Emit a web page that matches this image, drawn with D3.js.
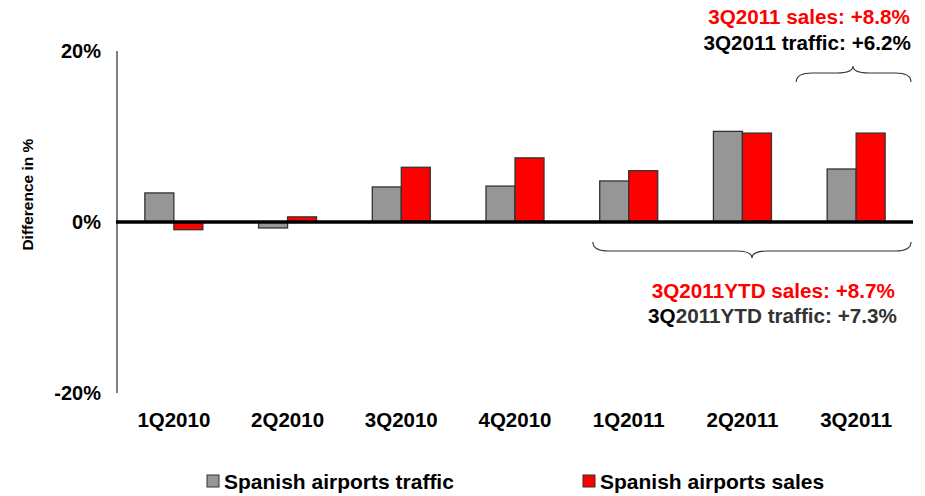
<!DOCTYPE html>
<html>
<head>
<meta charset="utf-8">
<script src="https://cdn.jsdelivr.net/npm/d3@7"></script>
<style>
  body { margin: 0; background: #fff; }
  svg { display: block; font-family: "Liberation Sans", Arial, sans-serif; font-weight: bold; }
</style>
</head>
<body>
<svg width="925" height="496"></svg>
<script>
const quarters = ["1Q2010", "2Q2010", "3Q2010", "4Q2010", "1Q2011", "2Q2011", "3Q2011"];
const traffic = [3.4, -0.7, 4.1, 4.2, 4.8, 10.6, 6.2];
const sales = [-0.9, 0.6, 6.4, 7.5, 6.0, 10.4, 10.4];
const seriesNames = ["Spanish airports traffic", "Spanish airports sales"];
const yTicks = [-20, 0, 20];

const colors = ["#969696", "#ff0000"];

let svg = d3.select("svg");

let padding = { top: 51, right: 12, bottom: 103, left: 117 };
const width = 925, height = 496;

const xScale = d3.scaleBand()
  .domain(quarters)
  .range([padding.left, width - padding.right]);

const yScale = d3.scaleLinear()
  .domain([-20, 20])
  .range([height - padding.bottom, padding.top]);

const barW = 29;
const sub = d3.scaleBand()
  .domain(seriesNames)
  .range([xScale.bandwidth() / 2 - barW, xScale.bandwidth() / 2 + barW]);

// y axis line + tick labels
svg.append("line")
  .attr("x1", padding.left).attr("x2", padding.left)
  .attr("y1", yScale(20)).attr("y2", yScale(-20))
  .attr("stroke", "#000").attr("stroke-width", 1);

svg.append("g").selectAll("text").data(yTicks).enter()
  .append("text")
  .attr("x", 101)
  .attr("y", d => yScale(d))
  .attr("dy", "0.36em")
  .attr("text-anchor", "end")
  .attr("font-size", 20)
  .text(d => d + "%");

svg.append("text")
  .attr("transform", "translate(33," + yScale(3.2) + ") rotate(-90)")
  .attr("text-anchor", "middle")
  .attr("font-size", 15.5)
  .text("Difference in %");

// bars
const rows = quarters.map((q, i) => ({ q: q, vals: [traffic[i], sales[i]] }));

let grp = svg.append("g").selectAll("g").data(rows).enter()
  .append("g")
  .attr("transform", d => "translate(" + xScale(d.q) + ",0)");

grp.selectAll("rect")
  .data(d => d.vals.map((v, j) => ({ name: seriesNames[j], v: v, j: j })))
  .enter()
  .append("rect")
  .attr("x", d => sub(d.name))
  .attr("width", sub.bandwidth())
  .attr("y", d => yScale(Math.max(0, d.v)))
  .attr("height", d => Math.abs(yScale(d.v) - yScale(0)))
  .attr("fill", d => colors[d.j])
  .attr("stroke", "#333")
  .attr("stroke-width", 1.3);

// zero line
svg.append("line")
  .attr("x1", padding.left - 1).attr("x2", width - padding.right)
  .attr("y1", yScale(0)).attr("y2", yScale(0))
  .attr("stroke", "#000").attr("stroke-width", 3.5);

// category labels
svg.append("g").selectAll("text").data(quarters).enter()
  .append("text")
  .attr("x", d => xScale(d) + xScale.bandwidth() / 2)
  .attr("y", 427)
  .attr("text-anchor", "middle")
  .attr("font-size", 20.5)
  .text(d => d);

// braces
function brace(x1, x2, xm, yEnd, yBody, yTip) {
  const r = 8;
  return "M" + x1 + "," + yEnd +
    " Q" + x1 + "," + yBody + " " + (x1 + r * 2) + "," + yBody +
    " L" + (xm - r * 2) + "," + yBody +
    " Q" + xm + "," + yBody + " " + xm + "," + yTip +
    " Q" + xm + "," + yBody + " " + (xm + r * 2) + "," + yBody +
    " L" + (x2 - r * 2) + "," + yBody +
    " Q" + x2 + "," + yBody + " " + x2 + "," + yEnd;
}

const last = quarters[quarters.length - 1];
svg.append("path")
  .attr("d", brace(xScale(last) - 3, xScale(last) + xScale.bandwidth() - 2, 853, 82, 73, 66))
  .attr("fill", "none").attr("stroke", "#333").attr("stroke-width", 1.1);

svg.append("path")
  .attr("d", brace(xScale("1Q2011") + 21, xScale(last) + xScale.bandwidth() - 2, 752, 242, 251, 258))
  .attr("fill", "none").attr("stroke", "#333").attr("stroke-width", 1.1);

// annotations
svg.append("text").attr("x", 910).attr("y", 24).attr("text-anchor", "end")
  .attr("font-size", 20.7).attr("fill", "#ff0000").text("3Q2011 sales: +8.8%");
svg.append("text").attr("x", 911).attr("y", 50).attr("text-anchor", "end")
  .attr("font-size", 20.7).attr("fill", "#000").text("3Q2011 traffic: +6.2%");

svg.append("text").attr("x", 895).attr("y", 298).attr("text-anchor", "end")
  .attr("font-size", 20.7).attr("fill", "#ff0000").text("3Q2011YTD sales: +8.7%");
let ytd = svg.append("text").attr("x", 897).attr("y", 323).attr("text-anchor", "end")
  .attr("font-size", 20.7).attr("fill", "#333");
ytd.append("tspan").attr("fill", "#000").text("3Q");
ytd.append("tspan").text("2011YTD traffic: +7.3%");

// legend
const legendX = [207, 583];
let leg = svg.append("g").selectAll("g").data(seriesNames).enter()
  .append("g")
  .attr("transform", (d, i) => "translate(" + legendX[i] + ",475)");
leg.append("rect")
  .attr("width", 12).attr("height", 12)
  .attr("fill", (d, i) => colors[i])
  .attr("stroke", "#333").attr("stroke-width", 1);
leg.append("text")
  .attr("x", 17).attr("y", 13.5)
  .attr("font-size", 21)
  .text(d => d);
</script>
</body>
</html>
